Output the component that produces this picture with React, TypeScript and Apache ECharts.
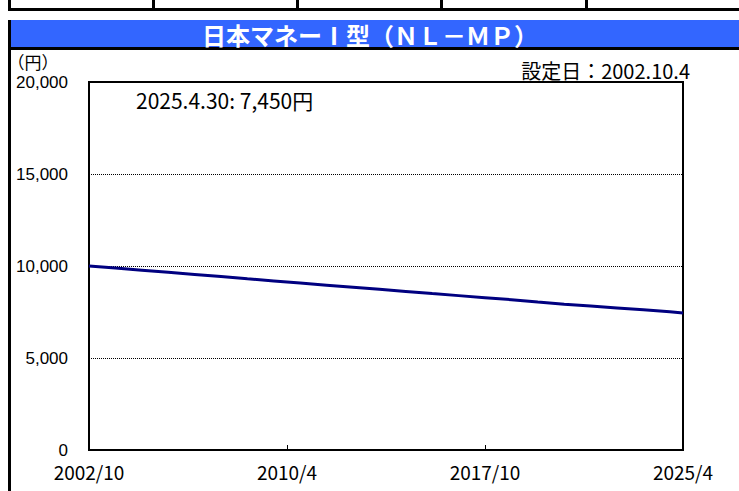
import React, { useEffect, useRef } from "react";
import * as echarts from "echarts";

const dates = [
  "2002/10", "2003/10", "2004/10", "2005/10", "2006/10", "2007/10", "2008/10",
  "2009/10", "2010/10", "2011/10", "2012/10", "2013/10", "2014/10", "2015/10",
  "2016/10", "2017/10", "2018/10", "2019/10", "2020/10", "2021/10", "2022/10",
  "2023/10", "2024/10", "2025/4",
];
const values = [
  10000, 9885, 9770, 9655, 9540, 9425, 9305, 9190, 9075, 8960, 8845, 8730,
  8615, 8500, 8390, 8280, 8170, 8040, 7920, 7820, 7720, 7620, 7510, 7450,
];
const xTickLabels = ["2002/10", "2010/4", "2017/10", "2025/4"];
const titleText = "日本マネーⅠ型（ＮＬ－ＭＰ）";
const unitText = "（円）";
const setupText = "設定日：2002.10.4";
const latestText = "2025.4.30: 7,450円";

const START_YEAR = 2002;
const START_MONTH = 10;
const monthIndex = (d: string) => {
  const [y, m] = d.split("/").map(Number);
  return (y - START_YEAR) * 12 + (m - START_MONTH);
};

const jp = "'Noto Sans CJK JP', sans-serif";

export default function App() {
  const ref = useRef<HTMLDivElement>(null);
  useEffect(() => {
    if (!ref.current) return;
    const chart = echarts.init(ref.current, undefined, { renderer: "svg" });
    const seriesData = dates.map((d, i) => [monthIndex(d), values[i]]);
    const lastIdx = monthIndex(dates[dates.length - 1]);
    const tableLines = [153, 297, 441, 586].map((x) => ({
      type: "rect",
      shape: { x: x - 1, y: 0, width: 3, height: 10 },
      style: { fill: "#000" },
    }));
    chart.setOption({
      animation: false,
      backgroundColor: "#fff",
      grid: {
        left: 89,
        top: 82,
        right: 56,
        bottom: 41,
        show: true,
        borderColor: "#000",
        borderWidth: 2,
        containLabel: false,
      },
      xAxis: {
        type: "value",
        min: 0,
        max: lastIdx,
        interval: 90,
        axisLine: { show: true, onZero: false, lineStyle: { color: "#000", width: 2 } },
        axisTick: { show: true, inside: true, length: 5, lineStyle: { color: "#000", width: 1 } },
        splitLine: { show: false },
        axisLabel: {
          margin: 12,
          color: "#000",
          fontSize: 19,
          fontFamily: jp,
          formatter: (v: number) => xTickLabels[Math.round(v / 90)] ?? "",
        },
      },
      yAxis: {
        type: "value",
        min: 0,
        max: 20000,
        interval: 5000,
        axisLine: { show: true, lineStyle: { color: "#000", width: 2 } },
        axisTick: { show: false },
        splitLine: { show: true, lineStyle: { color: "#000", width: 1, type: [1, 1] } },
        axisLabel: {
          margin: 21,
          color: "#000",
          fontSize: 17,
          fontFamily: "'Liberation Sans', Arial, sans-serif",
          formatter: (v: number) => v.toLocaleString("en-US"),
        },
      },
      series: [
        {
          type: "line",
          data: seriesData,
          showSymbol: false,
          smooth: false,
          lineStyle: { color: "#000080", width: 3 },
        },
      ],
      graphic: [
        { type: "rect", shape: { x: 8, y: 8, width: 731, height: 3 }, style: { fill: "#000" } },
        { type: "rect", shape: { x: 8, y: 0, width: 3, height: 10 }, style: { fill: "#000" } },
        ...tableLines,
        { type: "rect", shape: { x: 8, y: 20, width: 731, height: 27 }, style: { fill: "#3366FF" } },
        { type: "rect", shape: { x: 8, y: 47, width: 731, height: 3 }, style: { fill: "#000" } },
        { type: "rect", shape: { x: 8, y: 20, width: 3, height: 471 }, style: { fill: "#000" } },
        {
          type: "text",
          x: 370,
          y: 34,
          style: {
            text: titleText,
            fill: "#fff",
            font: `bold 24px ${jp}`,
            textAlign: "center",
            textVerticalAlign: "middle",
          },
        },
        {
          type: "text",
          x: 33,
          y: 61,
          style: {
            text: unitText,
            fill: "#000",
            font: `17px ${jp}`,
            textAlign: "center",
            textVerticalAlign: "middle",
          },
        },
        {
          type: "text",
          x: 690,
          y: 70,
          style: {
            text: setupText,
            fill: "#000",
            font: `20px ${jp}`,
            textAlign: "right",
            textVerticalAlign: "middle",
          },
        },
        {
          type: "text",
          x: 136,
          y: 100,
          style: {
            text: latestText,
            fill: "#000",
            font: `21px ${jp}`,
            textAlign: "left",
            textVerticalAlign: "middle",
          },
        },
      ],
    });
    return () => chart.dispose();
  }, []);
  return (
    <div
      ref={ref}
      style={{ position: "fixed", left: 0, top: 0, width: 739, height: 491 }}
    />
  );
}
